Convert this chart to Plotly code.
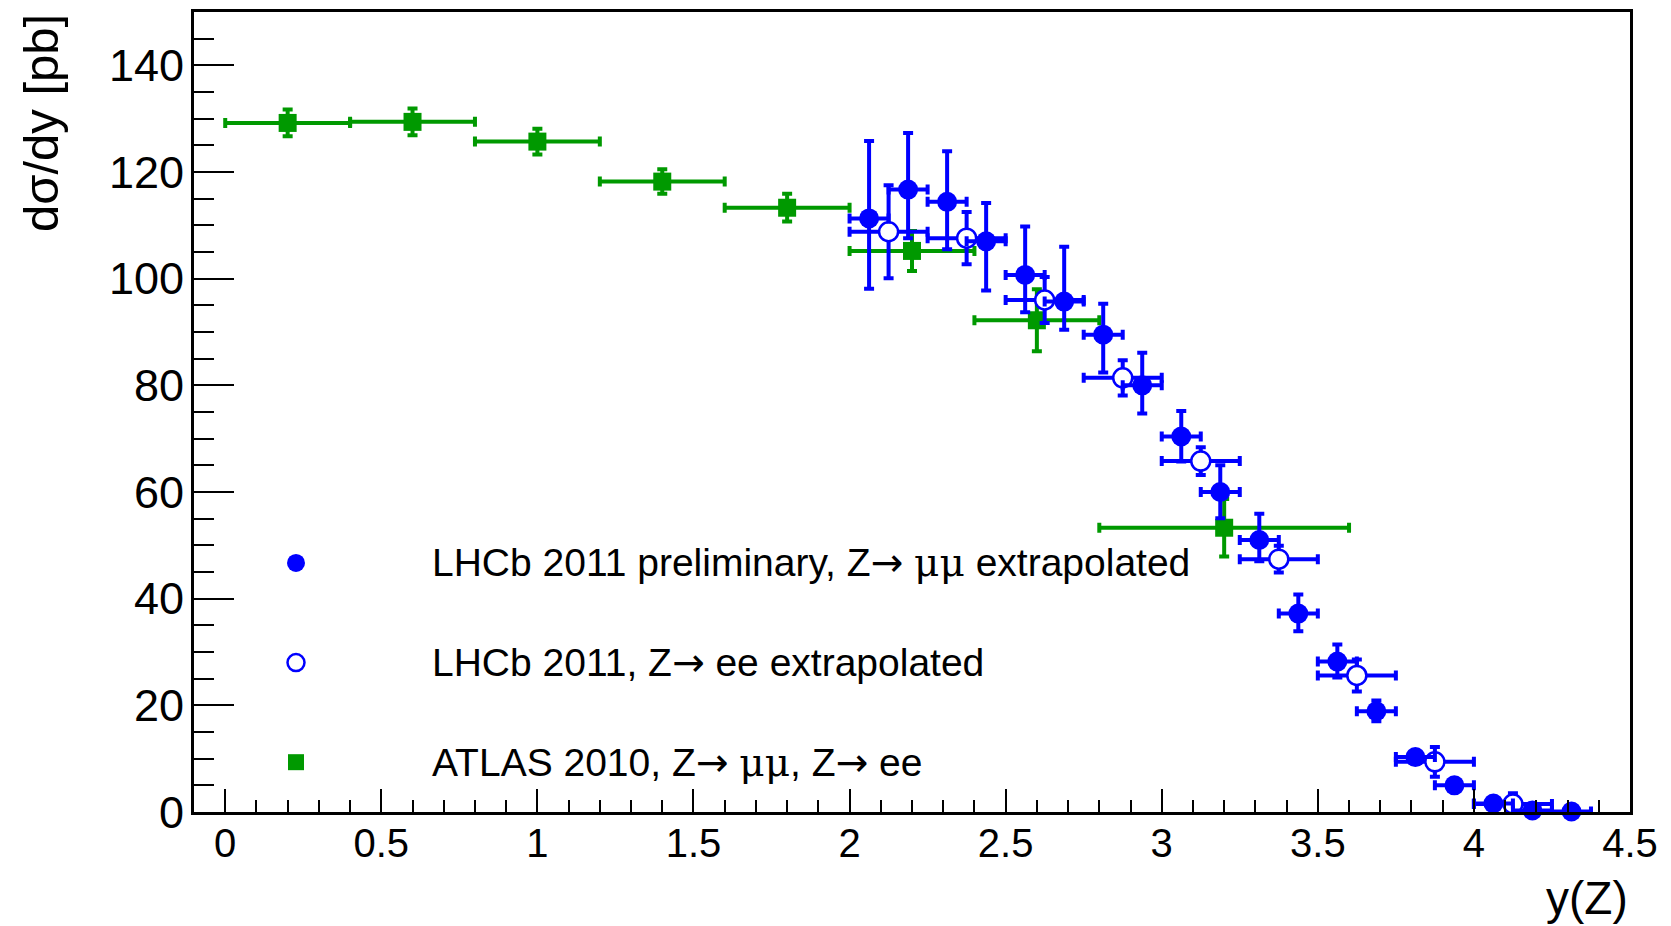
import plotly.graph_objects as go

# ---------------- data ----------------
# LHCb 2011 preliminary, Z -> mumu (filled circles)
mu_x = [2.0625, 2.1875, 2.3125, 2.4375, 2.5625, 2.6875, 2.8125, 2.9375, 3.0625, 3.1875,
        3.3125, 3.4375, 3.5625, 3.6875, 3.8125, 3.9375, 4.0625, 4.1875, 4.3125]
mu_y = [111.3, 116.7, 114.4, 107.0, 100.7, 95.7, 89.5, 80.0, 70.4, 60.0,
        51.0, 37.2, 28.2, 18.9, 10.3, 5.0, 1.6, 0.3, 0.1]
mu_err_up = [14.5, 10.6, 9.5, 7.2, 9.1, 10.3, 5.8, 6.1, 4.8, 5.0,
             4.9, 3.6, 3.2, 2.0, 1.1, 0.9, 0.6, 0.3, 0.2]
mu_err_dn = [13.2, 9.1, 8.9, 9.2, 7.0, 5.3, 7.1, 5.3, 4.7, 4.9,
             4.0, 3.3, 3.0, 1.9, 1.1, 0.9, 0.6, 0.3, 0.2]
mu_xerr = [0.0625] * len(mu_x)

# LHCb 2011, Z -> ee (open circles)
ee_x = [2.125, 2.375, 2.625, 2.875, 3.125, 3.375, 3.625, 3.875, 4.125]
ee_y = [108.8, 107.6, 96.0, 81.4, 65.8, 47.4, 25.6, 9.4, 1.5]
ee_err = [8.7, 4.9, 4.3, 3.3, 2.6, 2.5, 3.0, 2.8, 2.0]
ee_xerr = [0.125] * len(ee_x)

# ATLAS 2010 (squares)
at_x = [0.2, 0.6, 1.0, 1.4, 1.8, 2.2, 2.6, 3.2]
at_xerr = [0.2, 0.2, 0.2, 0.2, 0.2, 0.2, 0.2, 0.4]
at_y = [129.2, 129.4, 125.7, 118.2, 113.3, 105.2, 92.2, 53.3]
at_err = [2.5, 2.5, 2.4, 2.3, 2.6, 3.75, 5.8, 5.4]

ARROW = '<span style="font-family:DejaVu Sans">\u2192</span>'
MU = '<span style="font-family:DejaVu Serif">\u03bc\u03bc</span>'
legend_labels = ["LHCb 2011 preliminary, Z" + ARROW + " " + MU + " extrapolated",
                 "LHCb 2011, Z" + ARROW + " ee extrapolated",
                 "ATLAS 2010, Z" + ARROW + " " + MU + ", Z" + ARROW + " ee"]

x_title = "y(Z)"
y_title = "d\u03c3/dy [pb]"

BLUE = "#0000ff"
GREEN = "#009900"
FONT = "Liberation Sans, Arial, Helvetica, sans-serif"

fig = go.Figure()

def err(arr, color, arrminus=None):
    d = dict(type="data", array=arr, visible=True, color=color, thickness=4, width=5)
    if arrminus is not None:
        d["symmetric"] = False
        d["arrayminus"] = arrminus
    return d

fig.add_trace(go.Scatter(
    x=at_x, y=at_y, mode="markers",
    marker=dict(symbol="square", size=18, color=GREEN),
    error_x=err(at_xerr, GREEN), error_y=err(at_err, GREEN),
    cliponaxis=False, showlegend=False))

fig.add_trace(go.Scatter(
    x=ee_x, y=ee_y, mode="markers",
    marker=dict(symbol="circle", size=19, color="white", line=dict(color=BLUE, width=2.5)),
    error_x=err(ee_xerr, BLUE), error_y=err(ee_err, BLUE),
    cliponaxis=False, showlegend=False))

fig.add_trace(go.Scatter(
    x=mu_x, y=mu_y, mode="markers",
    marker=dict(symbol="circle", size=20, color=BLUE, line=dict(width=0)),
    error_x=err(mu_xerr, BLUE), error_y=err(mu_err_up, BLUE, mu_err_dn),
    cliponaxis=False, showlegend=False))

axis_common = dict(
    showgrid=False, zeroline=False, showline=True, linecolor="black", linewidth=3,
    mirror=True, ticks="inside", tickcolor="black", tickwidth=2,
)

fig.update_xaxes(range=[-0.1, 4.5], tick0=0, dtick=0.5, ticklen=23,
                 ticklabelstandoff=-6,
                 tickfont=dict(family=FONT, size=40, color="black"),
                 minor=dict(ticks="inside", dtick=0.1, tick0=0, ticklen=12,
                            tickwidth=2, tickcolor="black"),
                 **axis_common)
fig.update_yaxes(range=[0, 150], tick0=0, dtick=20, ticklen=40,
                 ticklabelstandoff=-2,
                 tickfont=dict(family=FONT, size=45, color="black"),
                 minor=dict(ticks="inside", dtick=5, tick0=0, ticklen=20,
                            tickwidth=2, tickcolor="black"),
                 **axis_common)

# Legend drawn as shapes + text
W, H = 1671, 926
L, R, T, B = 194, 41, 9, 114
pw, ph = W - L - R, H - T - B
def px_x(px):
    return (px - L) / pw
def px_y(py):
    return (H - B - py) / ph

rows = [562, 662, 762]
mx = px_x(296)
tx = px_x(430)
shapes = [
    dict(type="circle", xref="paper", yref="paper", xsizemode="pixel", ysizemode="pixel",
         xanchor=mx, yanchor=px_y(rows[0]), x0=-9, x1=9, y0=-9, y1=9,
         fillcolor=BLUE, line=dict(width=0)),
    dict(type="circle", xref="paper", yref="paper", xsizemode="pixel", ysizemode="pixel",
         xanchor=mx, yanchor=px_y(rows[1]), x0=-8.5, x1=8.5, y0=-8.5, y1=8.5,
         fillcolor="white", line=dict(color=BLUE, width=2.5)),
    dict(type="rect", xref="paper", yref="paper", xsizemode="pixel", ysizemode="pixel",
         xanchor=mx, yanchor=px_y(rows[2]), x0=-8, x1=8, y0=-8, y1=8,
         fillcolor=GREEN, line=dict(width=0)),
]
annotations = []
for lab, r in zip(legend_labels, rows):
    annotations.append(dict(text=lab, xref="paper", yref="paper", x=tx, y=px_y(r),
                            xanchor="left", yanchor="middle", showarrow=False,
                            font=dict(family=FONT, size=39, color="black")))

annotations.append(dict(text=x_title, xref="paper", yref="paper", x=1.0, y=px_y(898),
                        xanchor="right", yanchor="middle", showarrow=False,
                        font=dict(family=FONT, size=46, color="black")))
annotations.append(dict(text=y_title, xref="paper", yref="paper", x=px_x(41), y=1.0,
                        xanchor="center", yanchor="top", textangle=-90, showarrow=False,
                        font=dict(family=FONT, size=49, color="black")))

fig.update_layout(
    width=W, height=H,
    margin=dict(l=L, r=R, t=T, b=B, pad=0),
    paper_bgcolor="white", plot_bgcolor="white",
    shapes=shapes, annotations=annotations, showlegend=False,
)

fig.write_html("out.html")
